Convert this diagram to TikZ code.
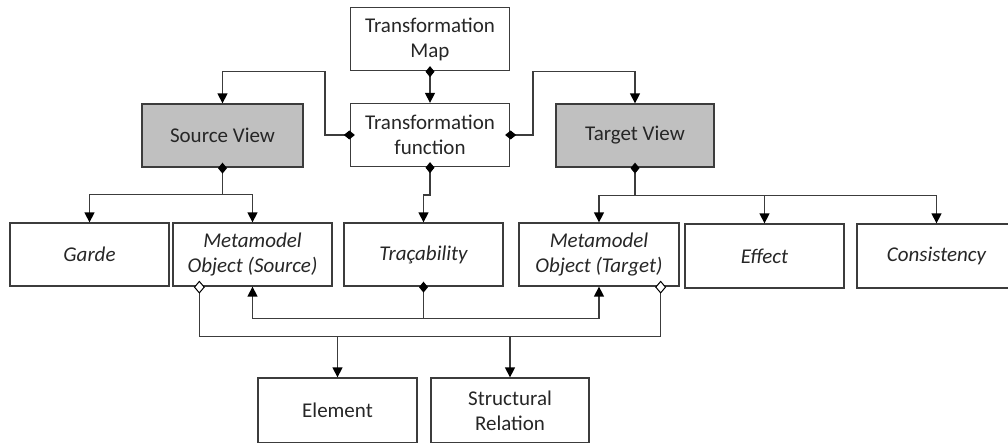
\documentclass[tikz,border=0pt]{standalone}
\usepackage{fontspec}
\setmainfont{Carlito}
\usepackage{tikz}
\usetikzlibrary{arrows.meta, positioning, calc}
\definecolor{viewgray}{RGB}{192,192,192}
\definecolor{linegray}{RGB}{60,60,60}
\newcommand{\diafont}{\fontsize{21}{25}\selectfont}

\tikzset{
  box/.style={draw=linegray, line width=1.3pt, minimum width=159pt, minimum height=63pt,
    inner sep=0pt, align=center, text=black!85},
  view/.style={box, fill=viewgray},
  item/.style={box, font=\diafont\itshape},
  link/.style={draw=linegray, line width=1.4pt},
  fd/.style={link, shorten <=-5pt},
  dia/.tip={Diamond[width=9pt,length=11pt,color=black]},
  odia/.tip={Diamond[open,width=11pt,length=13pt,line width=1pt,color=black,fill=white]},
}

\begin{document}
\begin{tikzpicture}[x=1pt, y=-1pt, >={Triangle[width=10pt,length=10pt,color=black]},
  font=\diafont]
  \useasboundingbox (0,0) rectangle (1008,443);

  % Transformation
  \node[box] (tmap) at (430,39) {Transformation\\Map};
  \node[box] (tfun) at (430,135) {Transformation\\function};

  % Views
  \node[view, minimum width=161pt] (src) at (222.5,135.5) {Source View};
  \node[view, minimum width=158pt] (tgt) at (635,135.5) {Target View};

  % Second row
  \node[item] (garde) at (89.5,254.5) {Garde};
  \node[item] (mmsrc) at (252.5,254.5) {Metamodel\\Object (Source)};
  \node[item] (trac) at (423.5,254.5) {Traçability};
  \node[item, minimum width=160pt] (mmtgt) at (599,254.5) {Metamodel\\Object (Target)};
  \node[item, minimum height=64pt] (effect) at (764.5,256) {Effect};
  \node[item, minimum height=64pt] (consist) at (936.5,256) {Consistency};

  % Bottom row
  \node[box, minimum height=65pt] (elem) at (337.5,410.5) {Element};
  \node[box, minimum width=158pt, minimum height=65pt] (rel) at (510,410.5) {Structural\\Relation};

  % Connectors from the transformation
  \draw[fd, dia->] (tmap.south) -- (tfun.north);
  \draw[fd, dia->] (tfun.west) -- ++(-25,0) |- ([yshift=32pt]src.north) -- (src.north);
  \draw[fd, dia->] (tfun.east) -- ++(23,0) |- ([yshift=32pt]tgt.north) -- (tgt.north);
  \draw[fd, dia->] (tfun.south) -- ++(0,28) -| (trac.north);

  % Source view
  \draw[fd, dia-] (src.south) -- ++(0,27) coordinate (srcj);
  \draw[link, ->] (srcj) -| (garde.north);
  \draw[link, ->] (srcj) -| (mmsrc.north);

  % Target view
  \draw[fd, dia-] (tgt.south) -- ++(0,28) coordinate (tgtj);
  \draw[link, ->] (tgtj) -| (mmtgt.north);
  \draw[link, ->] (tgtj) -| (effect.north);
  \draw[link, ->] (tgtj) -| (consist.north);

  % Traceability to both objects
  \draw[fd, dia-] (trac.south) -- ++(0,32) coordinate (tracj);
  \draw[link, ->] (tracj) -| (mmsrc.south);
  \draw[link, ->] (tracj) -| (mmtgt.south);

  % Objects to element and relation
  \draw[link, shorten <=-6pt, shorten >=-6pt, odia-odia]
    ([xshift=27pt]mmsrc.south west) |- ([xshift=-19pt,yshift=-50pt]mmtgt.south east) coordinate (bus)
    -- ([xshift=-19pt]mmtgt.south east);
  \draw[link, ->] (elem.north |- bus) -- (elem.north);
  \draw[link, ->] (rel.north |- bus) -- (rel.north);
\end{tikzpicture}
\end{document}
